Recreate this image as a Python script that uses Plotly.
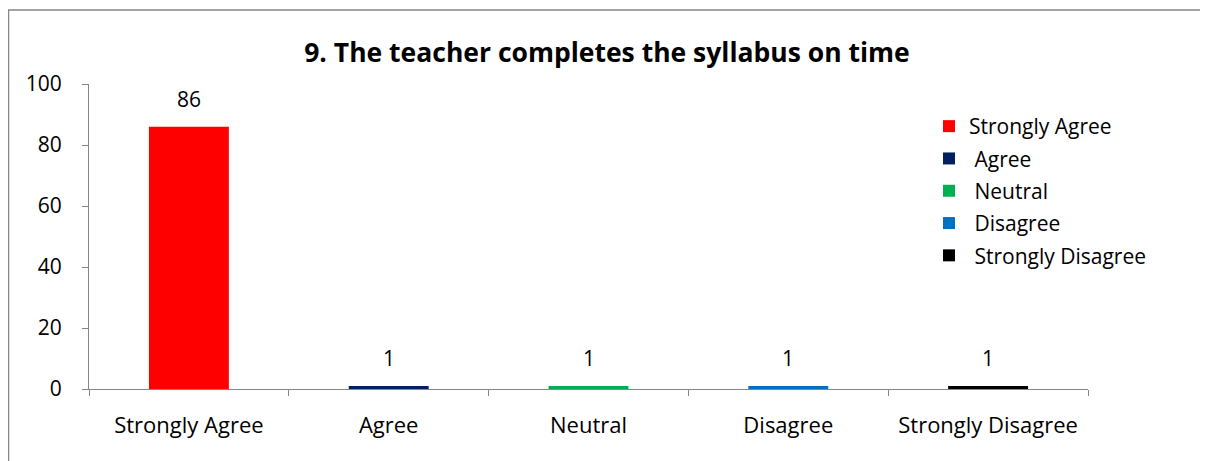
import plotly.graph_objects as go

categories = ["Strongly Agree", "Agree", "Neutral", "Disagree", "Strongly Disagree"]
legend_names = ["Strongly Agree", "\u00a0Agree", "\u00a0Neutral", "\u00a0Disagree", "\u00a0Strongly Disagree"]
values = [86, 1, 1, 1, 1]
colors = ["#FF0000", "#002060", "#00B050", "#0070C0", "#000000"]
y_ticks = [0, 20, 40, 60, 80, 100]
title_text = "9. The teacher completes the syllabus on time"

FONT = "Open Sans"
FS = 21
W, H = 1200, 453
L, R, T, B = 81, 120, 76, 72
PW, PH = W - L - R, H - T - B

fig = go.Figure()
for cat, nm, val, col in zip(categories, legend_names, values, colors):
    fig.add_trace(go.Bar(
        x=[cat], y=[val], name=nm, legendgroup=cat,
        marker=dict(color=col, line=dict(width=0)),
        width=0.4, showlegend=True,
    ))
    fig.add_annotation(x=cat, y=val, text=str(val), showarrow=False,
                       yanchor="bottom", yshift=12,
                       font=dict(family=FONT, size=FS, color="#000000"))

fig.update_layout(
    width=W, height=H,
    margin=dict(l=L, r=R, t=T, b=B, autoexpand=False),
    paper_bgcolor="white", plot_bgcolor="white",
    barmode="overlay",
    font=dict(family=FONT, size=FS, color="#000000"),
    title=dict(text="<b>" + title_text + "</b>", x=(599 - L) / PW, xref="paper", xanchor="center",
               y=1 - 45 / H, yanchor="middle", font=dict(family=FONT, size=26.5, color="#000000")),
    legend=dict(x=(921 - L) / PW, y=(H - B - 98) / PH, xanchor="left", yanchor="top",
                bgcolor="rgba(0,0,0,0)", font=dict(family=FONT, size=FS),
                itemsizing="constant", tracegroupgap=2),
    xaxis=dict(type="category", categoryorder="array", categoryarray=categories,
               showline=True, linecolor="#868686", linewidth=1,
               ticks="outside", tickson="boundaries", ticklen=6, tickcolor="#868686",
               ticklabelstandoff=17, tickfont=dict(family=FONT, size=22),
               showgrid=False, zeroline=False, automargin=False),
    yaxis=dict(range=[0, 100], tickvals=y_ticks, showline=True, linecolor="#868686",
               linewidth=1, ticks="outside", ticklen=6, tickcolor="#868686",
               ticklabelstandoff=16,
               showgrid=False, zeroline=False, automargin=False),
)
fig.add_shape(type="rect", xref="paper", yref="paper",
              x0=(0.5 - L) / PW, x1=(1198 - L) / PW, y0=-0.5, y1=(H - B - 2) / PH,
              line=dict(color="#868686", width=1.5), fillcolor="rgba(0,0,0,0)", layer="below")

fig.write_html("out.html")
